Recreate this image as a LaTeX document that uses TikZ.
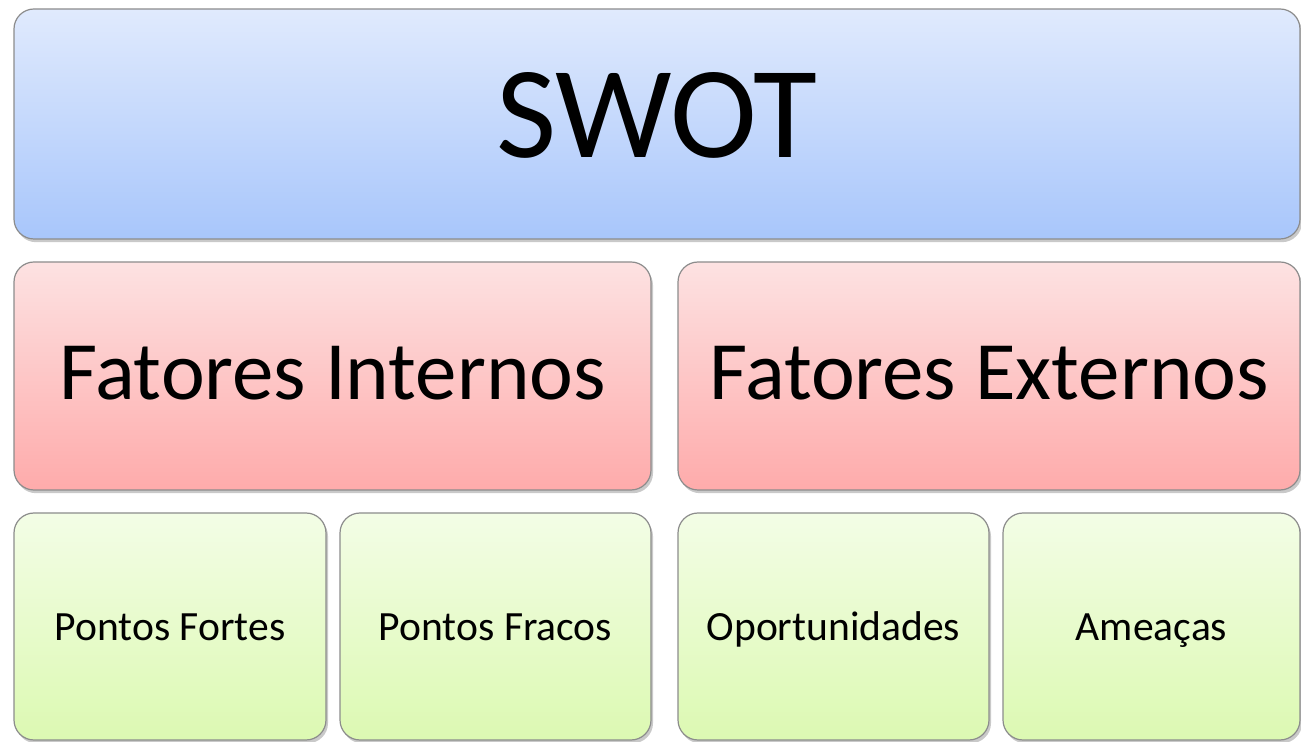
\documentclass[tikz,border=0pt]{standalone}
\usepackage{fontspec}
\setmainfont{Carlito}
\usetikzlibrary{shadows}
\definecolor{swottop}{HTML}{E0EAFD}
\definecolor{swotbot}{HTML}{A8C6FB}
\definecolor{fattop}{HTML}{FDE2E2}
\definecolor{fatbot}{HTML}{FEABAB}
\definecolor{pnttop}{HTML}{F3FDE6}
\definecolor{pntbot}{HTML}{DCF9B2}

\begin{document}
\begin{tikzpicture}[x=0.5pt,y=-0.5pt]
	\tikzstyle{every node}=[rectangle, rounded corners=10pt, draw=black!45, line width=0.6pt, inner sep=0pt,
		drop shadow={shadow xshift=1pt, shadow yshift=-1.6pt, opacity=.3, fill=black!70}]
	\tikzstyle{swotbox}=[top color=swottop, bottom color=swotbot, minimum width=643pt, minimum height=115pt,
		text height=41.5pt, text depth=7.5pt, font=\fontsize{65.5}{70}\selectfont]
	\tikzstyle{fatbox}=[top color=fattop, bottom color=fatbot, minimum height=114pt,
		text height=26pt, text depth=2pt, font=\fontsize{41.5}{46}\selectfont]
	\tikzstyle{pntbox}=[top color=pnttop, bottom color=pntbot, minimum height=113.5pt,
		text height=14pt, text depth=0.5pt, font=\fontsize{20.8}{24}\selectfont]
	\useasboundingbox (0,0) rectangle (1301,742);
	\draw (657,124) node (swot) [swotbox] {SWOT};
	\draw (332.5,376) node (fint) [fatbox, minimum width=318.5pt] {Fatores Internos};
	\draw (989,376) node (fext) [fatbox, minimum width=311pt] {Fatores Externos};
	\draw (170,626.5) node (pfor) [pntbox, minimum width=156pt] {Pontos Fortes};
	\draw (495.5,626.5) node (pfra) [pntbox, minimum width=155.5pt] {Pontos Fracos};
	\draw (833.5,626.5) node (opor) [pntbox, minimum width=155.5pt] {Oportunidades};
	\draw (1151.5,626.5) node (amea) [pntbox, minimum width=148.5pt] {Ameaças};
\end{tikzpicture}
\end{document}
